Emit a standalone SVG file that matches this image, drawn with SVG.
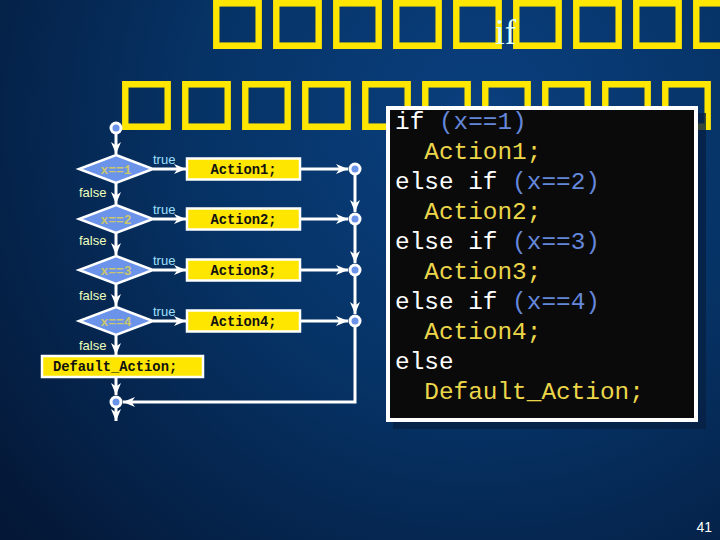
<svg xmlns="http://www.w3.org/2000/svg" width="720" height="540" viewBox="0 0 720 540">
<defs>
<radialGradient id="bg" cx="480" cy="120" r="620" gradientUnits="userSpaceOnUse">
<stop offset="0" stop-color="#0a3f7e"/>
<stop offset="0.45" stop-color="#063366"/>
<stop offset="1" stop-color="#041736"/>
</radialGradient>
<marker id="arr" markerUnits="userSpaceOnUse" markerWidth="12" markerHeight="10" refX="12" refY="5" orient="auto">
<path d="M0,0 L12,5 L0,10 L3.5,5 Z" fill="#ffffff"/>
</marker>
<style>
.tofu{font-family:"DejaVu Sans",sans-serif;font-size:60px;fill:#ffe600;stroke:#ffe600;stroke-width:3}
.dia{fill:#6b93ea;stroke:#ffffff;stroke-width:2.5}
.dtx{font-family:"Liberation Mono",monospace;font-weight:bold;font-size:13px;fill:#c9c66e;text-anchor:middle}
.box{fill:#ffe600;stroke:#ffffff;stroke-width:2.5}
.btx{font-family:"Liberation Mono",monospace;font-weight:bold;font-size:13.8px;fill:#111111;text-anchor:middle}
.tl{font-family:"Liberation Sans",Arial,sans-serif;font-size:13px;fill:#9fe0ff}
.fl{font-family:"Liberation Sans",Arial,sans-serif;font-size:13px;fill:#eeffbb}
.ln{stroke:#ffffff;stroke-width:3;fill:none}
.jn{fill:#ffffff}
.jd{fill:#6b93ea}
.code{font-family:"Liberation Mono","Courier New",monospace;font-size:24.4px}
.kw{fill:#ffffff}
.cd{fill:#6487da}
.ac{fill:#ecd64a}
</style>
</defs>
<rect width="720" height="540" fill="url(#bg)"/>
<g id="title">
<text class="tofu" x="209 269 329 389 449" y="40">□□□□□</text>
<text class="tofu" x="509 569 629 689" y="40">□□□□</text>
<text x="495" y="44" font-family="Liberation Serif,serif" font-size="35" fill="#dcffff">if</text>
<text class="tofu" x="118 178 238 298 358 418 478 538 598 658" y="121">□□□□□□□□□□</text>
</g>
<g id="connectors">
<line class="ln" x1="116" y1="134" x2="116" y2="154" marker-end="url(#arr)"/>
<line class="ln" x1="116" y1="183" x2="116" y2="204" marker-end="url(#arr)"/>
<line class="ln" x1="116" y1="233" x2="116" y2="255" marker-end="url(#arr)"/>
<line class="ln" x1="116" y1="284" x2="116" y2="306" marker-end="url(#arr)"/>
<line class="ln" x1="116" y1="335" x2="116" y2="355" marker-end="url(#arr)"/>
<line class="ln" x1="116" y1="378" x2="116" y2="395" marker-end="url(#arr)"/>
<line class="ln" x1="116" y1="408" x2="116" y2="421" marker-end="url(#arr)"/>
<line class="ln" x1="153" y1="169" x2="186" y2="169" marker-end="url(#arr)"/>
<line class="ln" x1="153" y1="219" x2="186" y2="219" marker-end="url(#arr)"/>
<line class="ln" x1="153" y1="270" x2="186" y2="270" marker-end="url(#arr)"/>
<line class="ln" x1="153" y1="321" x2="186" y2="321" marker-end="url(#arr)"/>
<line class="ln" x1="301" y1="169" x2="348" y2="169" marker-end="url(#arr)"/>
<line class="ln" x1="301" y1="219" x2="348" y2="219" marker-end="url(#arr)"/>
<line class="ln" x1="301" y1="270" x2="348" y2="270" marker-end="url(#arr)"/>
<line class="ln" x1="301" y1="321" x2="348" y2="321" marker-end="url(#arr)"/>
<line class="ln" x1="355" y1="175" x2="355" y2="212" marker-end="url(#arr)"/>
<line class="ln" x1="355" y1="225" x2="355" y2="263" marker-end="url(#arr)"/>
<line class="ln" x1="355" y1="276" x2="355" y2="314" marker-end="url(#arr)"/>
<polyline class="ln" points="355,327 355,402 123,402" marker-end="url(#arr)"/>
</g>
<g id="start">
<circle class="jn" cx="116" cy="128" r="6.5"/><circle class="jd" cx="116" cy="128" r="3.5"/>
</g>
<g id="cond1">
<polygon class="dia" points="116,155 153,169 116,183 79,169"/>
<text class="dtx" x="116" y="173.5">x==1</text>
<text class="tl" x="153" y="164">true</text>
<text class="fl" x="79" y="197">false</text>
</g>
<g id="cond2">
<polygon class="dia" points="116,205 153,219 116,233 79,219"/>
<text class="dtx" x="116" y="223.5">x==2</text>
<text class="tl" x="153" y="214">true</text>
<text class="fl" x="79" y="245">false</text>
</g>
<g id="cond3">
<polygon class="dia" points="116,256 153,270 116,284 79,270"/>
<text class="dtx" x="116" y="274.5">x==3</text>
<text class="tl" x="153" y="265">true</text>
<text class="fl" x="79" y="300">false</text>
</g>
<g id="cond4">
<polygon class="dia" points="116,307 153,321 116,335 79,321"/>
<text class="dtx" x="116" y="325.5">x==4</text>
<text class="tl" x="153" y="316">true</text>
<text class="fl" x="79" y="350">false</text>
</g>
<g id="action1"><rect class="box" x="187" y="158.5" width="113" height="21"/><text class="btx" x="243.5" y="173.5">Action1;</text></g>
<g id="action2"><rect class="box" x="187" y="208.5" width="113" height="21"/><text class="btx" x="243.5" y="223.5">Action2;</text></g>
<g id="action3"><rect class="box" x="187" y="259.5" width="113" height="21"/><text class="btx" x="243.5" y="274.5">Action3;</text></g>
<g id="action4"><rect class="box" x="187" y="310.5" width="113" height="21"/><text class="btx" x="243.5" y="325.5">Action4;</text></g>
<g id="default"><rect class="box" x="42" y="356" width="161" height="21"/><text class="btx" x="53" y="371" style="text-anchor:start">Default_Action;</text></g>
<g id="merge1"><circle class="jn" cx="355" cy="169" r="6.5"/><circle class="jd" cx="355" cy="169" r="3.5"/></g>
<g id="merge2"><circle class="jn" cx="355" cy="219" r="6.5"/><circle class="jd" cx="355" cy="219" r="3.5"/></g>
<g id="merge3"><circle class="jn" cx="355" cy="270" r="6.5"/><circle class="jd" cx="355" cy="270" r="3.5"/></g>
<g id="merge4"><circle class="jn" cx="355" cy="321" r="6.5"/><circle class="jd" cx="355" cy="321" r="3.5"/></g>
<g id="end"><circle class="jn" cx="116" cy="402" r="6.5"/><circle class="jd" cx="116" cy="402" r="3.5"/></g>
<g id="code">
<rect x="393" y="113" width="313" height="316" fill="#062044" opacity="0.8"/>
<rect x="388" y="108" width="308" height="312" fill="#0a0a0a" stroke="#ffffff" stroke-width="4"/>
<text class="code" x="395" y="129"><tspan class="kw">if </tspan><tspan class="cd">(x==1)</tspan></text>
<text class="code ac" x="424.3" y="159">Action1;</text>
<text class="code" x="395" y="189"><tspan class="kw">else if </tspan><tspan class="cd">(x==2)</tspan></text>
<text class="code ac" x="424.3" y="219">Action2;</text>
<text class="code" x="395" y="249"><tspan class="kw">else if </tspan><tspan class="cd">(x==3)</tspan></text>
<text class="code ac" x="424.3" y="279">Action3;</text>
<text class="code" x="395" y="309"><tspan class="kw">else if </tspan><tspan class="cd">(x==4)</tspan></text>
<text class="code ac" x="424.3" y="339">Action4;</text>
<text class="code kw" x="395" y="369">else</text>
<text class="code ac" x="424.3" y="399">Default_Action;</text>
</g>
<text x="712" y="532" font-family="Liberation Sans,Arial,sans-serif" font-size="14" fill="#ffffff" text-anchor="end">41</text>
</svg>
